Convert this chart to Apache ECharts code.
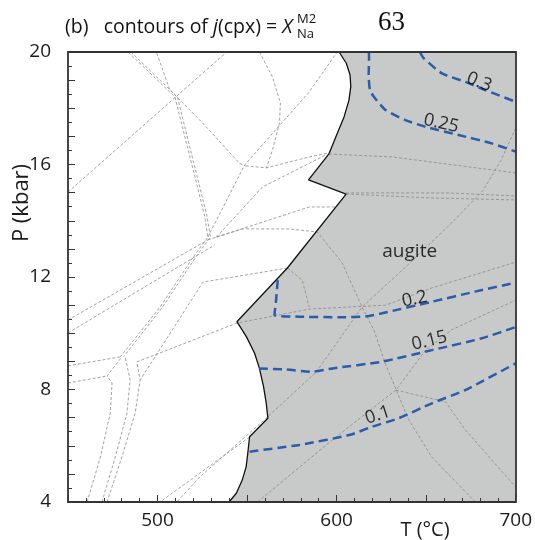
<!DOCTYPE html>
<html>
<head>
<meta charset="utf-8">
<script src="https://cdn.jsdelivr.net/npm/echarts@6/dist/echarts.min.js"></script>
<style>
  html, body { margin: 0; padding: 0; background: #fff; }
  #chart { width: 535px; height: 540px; }
</style>
</head>
<body>
<div id="chart"></div>
<script>
// axis ranges
const tRange = [450, 700]
const pRange = [4, 20]

// left edge of the augite field (T in degC, P in kbar)
const augiteBoundary = [
  [601.4, 20], [605.4, 19.6], [607.5, 19.18], [607.9, 18.77], [606.9, 18.29],
  [604.2, 17.7], [600.4, 17.11], [595.8, 16.39], [584.3, 15.45], [605.3, 14.95],
  [572.5, 12.32], [544.3, 10.41], [549.6, 9.88], [554.2, 9.29], [556.9, 8.75],
  [559.2, 8.1], [560.7, 7.51], [561.6, 6.98], [551.4, 6.32], [550.4, 5.74],
  [549.5, 5.26], [547.3, 4.78], [544, 4.31], [539.9, 4]
]
const augiteCorners = [[700, 4], [700, 20]]

// contours of X_Na^M2
const contour30 = [[646.5, 20], [648.6, 19.78], [658.8, 19.24], [671.8, 18.94], [682.9, 18.65], [700, 18.23]]
const contour25 = [[618, 20], [618.1, 19.78], [617.9, 19.18], [618.6, 18.65], [620.8, 18.41], [627.3, 17.94],
  [638.4, 17.58], [649.6, 17.34], [668.1, 17.05], [686.6, 16.75], [700, 16.46]]
const contour20 = [[567.1, 11.89], [566.2, 11.18], [565.3, 10.65], [579.2, 10.59], [601.4, 10.57], [616.4, 10.6],
  [625.4, 10.71], [653.2, 11.12], [677.3, 11.48], [700, 11.8]]
const contour15 = [[556.6, 8.75], [572, 8.71], [586.4, 8.63], [597.7, 8.75], [625.4, 8.99], [653.2, 9.4],
  [681, 9.82], [700, 10.22]]
const contour10 = [[551.4, 5.79], [579.2, 6.03], [607, 6.38], [619.9, 6.68], [634.7, 6.98], [653.2, 7.51],
  [671.8, 7.98], [700, 8.93]]
const contours = [contour30, contour25, contour20, contour15, contour10]

// contour labels
const contourLabelText = ['0.3', '0.25', '0.2', '0.15', '0.1']
const contourLabelPos = [[679.6, 18.93], [658.4, 17.46], [643.5, 11.21], [651.8, 9.73], [623, 7.09]]
const contourLabelAngle = [-22, -13, 12, 14, 18]

const fieldName = 'augite'
const fieldNamePos = [640.8, 12.89]

// background reaction lines (thin grey dashed)
const reactionLines = [
  [[483.6, 20], [509.7, 18.4], [517.1, 16.52], [521.8, 15.33], [526.4, 14.14], [528.1, 13.42], [519.9, 12.71], [501.4, 10.93], [479.2, 9.16]],
  [[485.1, 20], [511.1, 18.4], [518.4, 16.52], [523.1, 15.33], [527.7, 14.14], [529.5, 13.42], [521.3, 12.71], [502.8, 10.93], [481, 9.16]],
  [[499.6, 19.95], [506.9, 18.65], [514.3, 18.18], [525.4, 17.46], [545.8, 16.04], [549.2, 15.95]],
  [[450, 15.02], [538.6, 20]],
  [[556.9, 20], [564.2, 19.11], [568.6, 18.19], [568.1, 17.48], [564.2, 16.52], [560.8, 15.88]],
  [[528.1, 13.42], [548.6, 15.98], [584.7, 18.58], [600.3, 20]],
  [[549.2, 15.95], [560.8, 15.88], [584.7, 16.27], [595.8, 16.41]],
  [[532.9, 13.42], [558.6, 15.2], [593.9, 16.34]],
  [[532.9, 13.42], [584.7, 14.49], [599.2, 14.49]],
  [[450, 10.47], [528.1, 13.32]],
  [[450, 10.01], [531.9, 13.14]],
  [[450, 8.84], [479.2, 9.16]],
  [[450, 8.23], [471.8, 8.48]],
  [[460.7, 4], [468.1, 5.6], [473.6, 7.16], [474.6, 8.23], [471.8, 8.48], [480.1, 9.16]],
  [[469, 4], [476.4, 5.6], [482.9, 7.16], [484.7, 8.34], [481.9, 9.16]],
  [[471.8, 4], [480.1, 5.6], [487.5, 7.16], [490.3, 8.34], [488.4, 8.98]],
  [[572.5, 12.32], [525.4, 11.82], [490.3, 8.34]],
  [[488.4, 8.98], [544.2, 10.36], [584.7, 10.86], [627.5, 11.0], [653.1, 11.61], [700, 12.53]],
  [[595.8, 16.37], [630.8, 16.27], [700, 15.7]],
  [[605.3, 14.95], [653.1, 14.81], [700, 14.74]],
  [[605.3, 14.99], [662.5, 14.99], [700, 14.88]],
  [[700, 17.3], [691.9, 16.16], [681.9, 15.09], [664.2, 13.92], [638.6, 12.36], [614.2, 10.93], [588.6, 8.62], [561.4, 7.02], [523.6, 4.89], [510.8, 4]],
  [[551.4, 6.31], [501.4, 4]],
  [[528.1, 13.32], [547.5, 13.71], [573.6, 13.71], [589.2, 13.6], [603.1, 12.5], [614.2, 10.93], [620.8, 10.12], [627.5, 8.87], [640.3, 6.92], [653.1, 5.6], [677.5, 4]],
  [[572.5, 12.32], [580.8, 11.89], [584.7, 10.93]],
  [[555.8, 4], [597.5, 6.2], [633.1, 7.98], [649.7, 9.4], [664.2, 10.12], [700, 11.18]],
  [[633.1, 7.98], [660.8, 7.56], [671.9, 6.56], [700, 4.53]]
]

const font = '"Open Sans", "Noto Sans", sans-serif'
const chart = echarts.init(document.getElementById('chart'))

let series = []

// grey augite field
series.push({
  type: 'custom',
  z: 1,
  silent: true,
  data: [[600, 12]],
  renderItem: function (params, api) {
    const pts = augiteBoundary.concat(augiteCorners).map(p => api.coord(p))
    return { type: 'polygon', shape: { points: pts }, style: { fill: '#c8c9c9' } }
  }
})

reactionLines.forEach(line => {
  series.push({
    type: 'line',
    z: 2,
    data: line,
    symbol: 'none',
    silent: true,
    lineStyle: { color: '#8a8a8a', width: 0.8, type: [3, 2] }
  })
})

series.push({
  type: 'line',
  z: 3,
  data: augiteBoundary,
  symbol: 'none',
  lineStyle: { color: '#111', width: 1.3 }
})

contours.forEach(c => {
  series.push({
    type: 'line',
    z: 4,
    data: c,
    symbol: 'none',
    smooth: 0.2,
    lineStyle: { color: '#2a5caa', width: 2.5, type: [9, 5] }
  })
})

series.push({
  type: 'scatter',
  z: 5,
  symbolSize: 0,
  data: contourLabelPos.map((p, i) => ({
    value: p,
    label: { formatter: contourLabelText[i], rotate: contourLabelAngle[i] }
  })).concat([{ value: fieldNamePos, label: { formatter: fieldName, rotate: 0, fontSize: 19 } }]),
  label: {
    show: true,
    position: 'inside',
    color: '#000',
    fontFamily: font,
    fontSize: 18
  }
})

const option = {
  animation: false,
  grid: { left: 68, right: 17, top: 52, bottom: 38 },
  xAxis: [
    {
      type: 'value',
      min: tRange[0],
      max: tRange[1],
      interval: 50,
      z: 10,
      axisLine: { lineStyle: { color: '#333', width: 1.8 } },
      axisTick: { inside: true, length: 7, lineStyle: { color: '#333' } },
      minorTick: { show: true, splitNumber: 5, length: 4, lineStyle: { color: '#333' } },
      splitLine: { show: false },
      axisLabel: {
        margin: 9,
        fontFamily: font,
        fontSize: 19,
        color: '#1a1a1a',
        formatter: v => (v % 100 === 0 ? String(v) : '')
      }
    },
    {
      type: 'value',
      position: 'top',
      min: tRange[0],
      max: tRange[1],
      z: 10,
      axisLine: { show: true, lineStyle: { color: '#333', width: 1.8 } },
      axisTick: { show: false },
      axisLabel: { show: false },
      splitLine: { show: false }
    }
  ],
  yAxis: [
    {
      type: 'value',
      min: pRange[0],
      max: pRange[1],
      interval: 1,
      z: 10,
      axisLine: { show: true, lineStyle: { color: '#333', width: 1.8 } },
      axisTick: { inside: true, length: 7, lineStyle: { color: '#333' } },
      minorTick: { show: true, splitNumber: 2, length: 4, lineStyle: { color: '#333' } },
      splitLine: { show: false },
      axisLabel: {
        margin: 17,
        fontFamily: font,
        fontSize: 19,
        color: '#1a1a1a',
        formatter: v => (v % 4 === 0 ? String(v) : '')
      }
    },
    {
      type: 'value',
      position: 'right',
      min: pRange[0],
      max: pRange[1],
      z: 10,
      axisLine: { show: true, lineStyle: { color: '#333', width: 1.8 } },
      axisTick: { show: false },
      axisLabel: { show: false },
      splitLine: { show: false }
    }
  ],
  graphic: [
    {
      type: 'text',
      left: 65,
      top: 17,
      style: {
        text: '{n|(b)   contours of }{i|j}{n|(cpx) = }{i|X}',
        rich: {
          n: { fontFamily: font, fontSize: 19.5, fill: '#111' },
          i: { fontFamily: font, fontSize: 19.5, fontStyle: 'italic', fill: '#111' }
        }
      }
    },
    { type: 'text', left: 297, top: 13, style: { text: 'M2', font: '13px ' + font, fill: '#111' } },
    { type: 'text', left: 297, top: 28, style: { text: 'Na', font: '13px ' + font, fill: '#111' } },
    { type: 'text', left: 378, top: 9, style: { text: '63', font: '27px "Liberation Serif", serif', fill: '#111' } },
    {
      type: 'text',
      x: 22,
      y: 203,
      rotation: Math.PI / 2,
      style: { text: 'P (kbar)', font: '22px ' + font, fill: '#1a1a1a', align: 'center', verticalAlign: 'middle' }
    },
    {
      type: 'text',
      x: 425,
      y: 530,
      style: { text: 'T (°C)', font: '20px ' + font, fill: '#1a1a1a', align: 'center', verticalAlign: 'middle' }
    }
  ],
  series: series
}

chart.setOption(option)
</script>
</body>
</html>
